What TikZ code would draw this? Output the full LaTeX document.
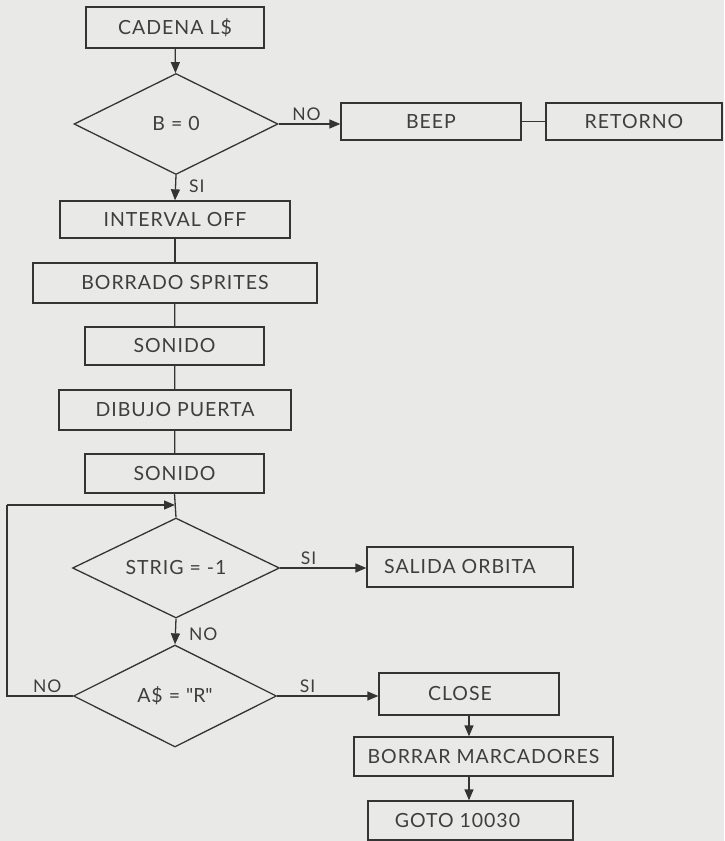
\documentclass[tikz,border=0pt]{standalone}
\usepackage{fontspec}
\setmainfont[LetterSpace=5]{Lato}
\usetikzlibrary{shapes.geometric,arrows.meta}
\definecolor{paper}{RGB}{233,233,231}
\definecolor{ink}{RGB}{52,52,52}
\definecolor{textink}{RGB}{62,62,62}
\begin{document}
\begin{tikzpicture}[x=1pt,y=-1pt,
  every node/.style={text=textink,font=\fontsize{19.5}{22}\selectfont},
  procbox/.style={draw=ink,line width=1.3pt,rectangle,inner sep=0pt},
  decision/.style={draw=ink,line width=1.3pt,diamond,inner sep=0pt,aspect=2},
  flow/.style={draw=ink,line width=1.3pt},
  arrowflow/.style={flow,-{Triangle[length=11pt,width=9pt]}},
  tag/.style={font=\fontsize{17.5}{19}\selectfont,inner sep=3pt}]
  % page
  \fill[paper] (0,0) rectangle (724,841);
  \useasboundingbox (0,0) rectangle (724,841);

  % main column
  \node[procbox,minimum width=178pt,minimum height=41pt] (cadena) at (175,27.5) {CADENA L\$};
  \node[decision,minimum width=204pt,minimum height=101pt] (bzero) at (176,124) {B = 0};
  \node[procbox,minimum width=180pt,minimum height=37pt] (beep) at (431,121.5) {BEEP};
  \node[procbox,minimum width=176pt,minimum height=37pt] (retorno) at (634,121.5) {RETORNO};
  \node[procbox,minimum width=230pt,minimum height=37pt] (interval) at (175,219.5) {INTERVAL OFF};
  \node[procbox,minimum width=284pt,minimum height=40pt] (borrado) at (175,283) {BORRADO SPRITES};
  \node[procbox,minimum width=179pt,minimum height=38pt] (sonidoA) at (174.5,346) {SONIDO};
  \node[procbox,minimum width=232pt,minimum height=40pt] (dibujo) at (175,410) {DIBUJO PUERTA};
  \node[procbox,minimum width=179pt,minimum height=39pt] (sonidoB) at (174.5,473.5) {SONIDO};
  \node[decision,minimum width=207pt,minimum height=100pt] (strig) at (176,568) {STRIG = -1};
  \node[decision,minimum width=203pt,minimum height=102pt] (tecla) at (175,696) {A\$ = \textquotedbl R\textquotedbl};

  % right column
  \node[procbox,minimum width=206pt,minimum height=40pt] (salida) at (470,567) {SALIDA ORBITA\hspace*{20pt}};
  \node[procbox,minimum width=180pt,minimum height=42pt] (close) at (469,694) {CLOSE\hspace*{18pt}};
  \node[procbox,minimum width=259pt,minimum height=39pt] (borrar) at (483.5,756.5) {BORRAR MARCADORES};
  \node[procbox,minimum width=205pt,minimum height=39pt] (goto) at (470.5,820.5) {GOTO 10030\hspace*{26pt}};

  % loop-back corner points
  \coordinate (loopin) at (175,505);
  \coordinate (loopbl) at (7,696);
  \coordinate (looptl) at (7,505);

  % connectors
  \draw[arrowflow] (cadena) -- (bzero);
  \draw[arrowflow] (bzero.east) -- node[tag,above,pos=0.45] {NO} (bzero.east -| beep.west);
  \draw[flow] (beep.east) -- (retorno.west);
  \draw[arrowflow] (bzero.south) -- node[tag,right,pos=0.45,xshift=10pt] {SI} (interval.north);
  \draw[flow] (interval) -- (borrado);
  \draw[flow] (borrado) -- (sonidoA);
  \draw[flow] (sonidoA) -- (dibujo);
  \draw[flow] (dibujo) -- (sonidoB);
  \draw[flow] (sonidoB.south) -- (strig.north);
  \draw[arrowflow] (strig.east) -- node[tag,above,pos=0.33] {SI} (strig.east -| salida.west);
  \draw[arrowflow] (strig.south) -- node[tag,right,pos=0.6,xshift=10pt] {NO} (tecla.north);
  \draw[arrowflow] (tecla.east) -- node[tag,above,pos=0.3] {SI} (tecla.east -| close.west);
  \draw[flow] (tecla.west) -- node[tag,above,pos=0.39] {NO} (loopbl) -- (looptl);
  \draw[arrowflow] (looptl) -- (loopin);
  \draw[arrowflow] (close.south) -- (close.south |- borrar.north);
  \draw[arrowflow] (borrar.south -| close.south) -- (close.south |- goto.north);
\end{tikzpicture}
\end{document}
